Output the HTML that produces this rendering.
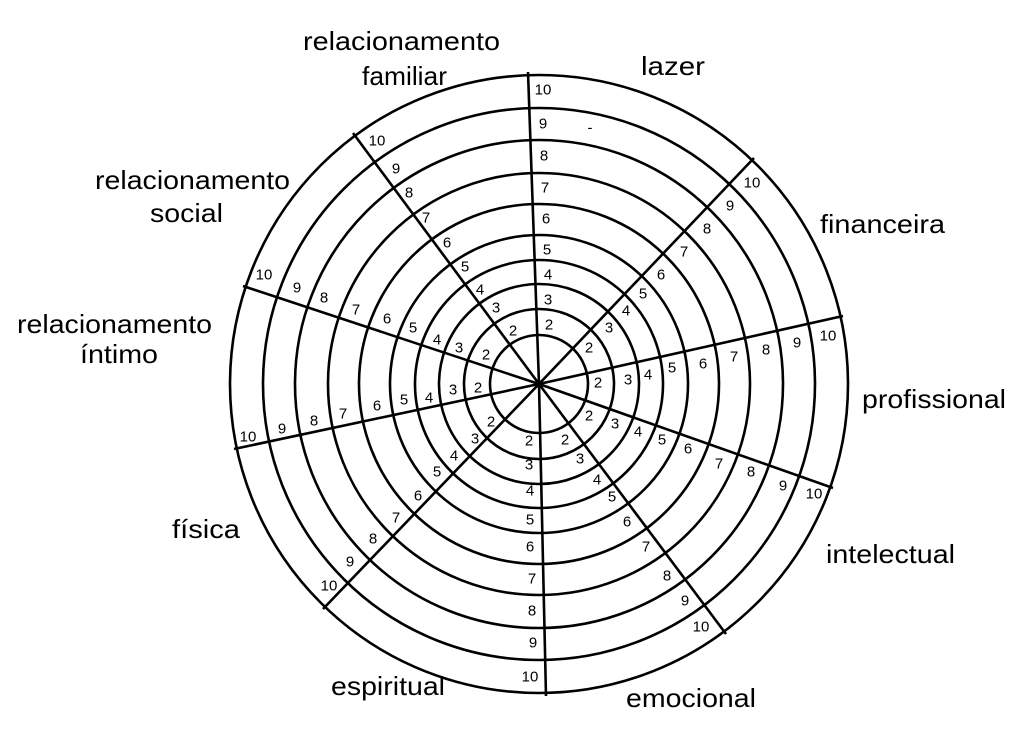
<!DOCTYPE html>
<html><head><meta charset="utf-8"><style>
html,body{margin:0;padding:0;background:#fff;}
svg{display:block;}
.n{font-family:"Liberation Sans",Arial,sans-serif;font-size:15px;text-anchor:middle;dominant-baseline:central;fill:#000;}
.l{font-family:"Liberation Sans",Arial,sans-serif;font-size:26px;fill:#000;}
</style></head><body>
<svg width="1024" height="740" viewBox="0 0 1024 740" xmlns="http://www.w3.org/2000/svg">
<g fill="none" stroke="#000" stroke-width="2.6">
<circle cx="539" cy="384" r="309"/>
<circle cx="539" cy="384" r="276"/>
<circle cx="539" cy="384" r="244"/>
<circle cx="539" cy="384" r="211"/>
<circle cx="539" cy="384" r="180"/>
<circle cx="539" cy="384" r="149"/>
<circle cx="539" cy="384" r="124"/>
<circle cx="539" cy="384" r="100"/>
<circle cx="539" cy="384" r="75"/>
<circle cx="539" cy="384" r="49"/>
<line x1="539" y1="384" x2="528" y2="72"/>
<line x1="539" y1="384" x2="754" y2="158"/>
<line x1="539" y1="384" x2="843" y2="316"/>
<line x1="539" y1="384" x2="833" y2="488"/>
<line x1="539" y1="384" x2="726" y2="634"/>
<line x1="539" y1="384" x2="546" y2="696"/>
<line x1="539" y1="384" x2="323" y2="609"/>
<line x1="539" y1="384" x2="234" y2="449"/>
<line x1="539" y1="384" x2="243" y2="286"/>
<line x1="539" y1="384" x2="353" y2="133"/>
</g>
<g class="n">
<text x="543" y="90">10</text><text x="543" y="124">9</text><text x="544" y="156">8</text><text x="545" y="188">7</text><text x="546" y="219">6</text><text x="547" y="250">5</text><text x="548" y="275">4</text><text x="548" y="300">3</text><text x="549" y="325">2</text>
<text x="752" y="183">10</text><text x="730" y="206">9</text><text x="707" y="229">8</text><text x="684" y="252">7</text><text x="661" y="275">6</text><text x="643" y="294">5</text><text x="626" y="311">4</text><text x="609" y="328">3</text><text x="589" y="348">2</text>
<text x="828" y="336">10</text><text x="797" y="343">9</text><text x="766" y="350">8</text><text x="734" y="357">7</text><text x="703" y="364">6</text><text x="672" y="368">5</text><text x="648" y="375">4</text><text x="628" y="380">3</text><text x="598" y="383">2</text>
<text x="814" y="494">10</text><text x="783" y="486">9</text><text x="751" y="472">8</text><text x="719" y="464">7</text><text x="688" y="449">6</text><text x="662" y="440">5</text><text x="638" y="432">4</text><text x="615" y="424">3</text><text x="589" y="416">2</text>
<text x="701" y="627">10</text><text x="685" y="601">9</text><text x="667" y="576">8</text><text x="646" y="547">7</text><text x="627" y="522">6</text><text x="612" y="497">5</text><text x="597" y="480">4</text><text x="580" y="459">3</text><text x="565" y="440">2</text>
<text x="530" y="677">10</text><text x="533" y="643">9</text><text x="532" y="611">8</text><text x="532" y="579">7</text><text x="530" y="547">6</text><text x="530" y="520">5</text><text x="530" y="491">4</text><text x="529" y="465">3</text><text x="529" y="441">2</text>
<text x="329" y="586">10</text><text x="350" y="562">9</text><text x="373" y="539">8</text><text x="396" y="518">7</text><text x="418" y="496">6</text><text x="437" y="472">5</text><text x="454" y="456">4</text><text x="475" y="439">3</text><text x="491" y="422">2</text>
<text x="248" y="437">10</text><text x="282" y="429">9</text><text x="314" y="421">8</text><text x="343" y="414">7</text><text x="377" y="406">6</text><text x="404" y="400">5</text><text x="429" y="398">4</text><text x="453" y="390">3</text><text x="478" y="388">2</text>
<text x="264" y="275">10</text><text x="297" y="288">9</text><text x="324" y="298">8</text><text x="356" y="310">7</text><text x="387" y="319">6</text><text x="413" y="328">5</text><text x="437" y="340">4</text><text x="459" y="348">3</text><text x="486" y="355">2</text>
<text x="377" y="141">10</text><text x="396" y="169">9</text><text x="409" y="193">8</text><text x="426" y="218">7</text><text x="447" y="243">6</text><text x="465" y="267">5</text><text x="480" y="290">4</text><text x="496" y="308">3</text><text x="513" y="331">2</text>
<text x="590" y="128">-</text>
</g>
<g class="l">
<text x="303" y="50" textLength="197" lengthAdjust="spacingAndGlyphs">relacionamento</text>
<text x="362" y="85" textLength="85" lengthAdjust="spacingAndGlyphs">familiar</text>
<text x="641" y="75" textLength="64" lengthAdjust="spacingAndGlyphs">lazer</text>
<text x="820" y="233" textLength="125" lengthAdjust="spacingAndGlyphs">financeira</text>
<text x="862" y="408" textLength="144" lengthAdjust="spacingAndGlyphs">profissional</text>
<text x="826" y="563" textLength="129" lengthAdjust="spacingAndGlyphs">intelectual</text>
<text x="626" y="707" textLength="130" lengthAdjust="spacingAndGlyphs">emocional</text>
<text x="331" y="695" textLength="114" lengthAdjust="spacingAndGlyphs">espiritual</text>
<text x="172" y="538" textLength="68" lengthAdjust="spacingAndGlyphs">física</text>
<text x="95" y="189" textLength="195" lengthAdjust="spacingAndGlyphs">relacionamento</text>
<text x="150" y="222" textLength="73" lengthAdjust="spacingAndGlyphs">social</text>
<text x="17" y="333" textLength="195" lengthAdjust="spacingAndGlyphs">relacionamento</text>
<text x="80" y="363" textLength="78" lengthAdjust="spacingAndGlyphs">íntimo</text>
</g>
</svg>
</body></html>
